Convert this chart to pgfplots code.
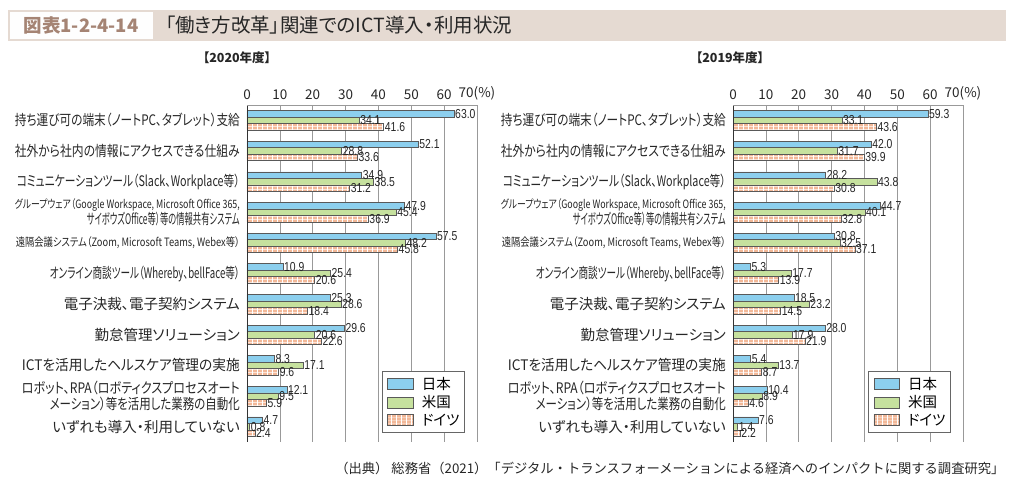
\documentclass[border=0pt]{standalone}
\usepackage{fontspec}
\usepackage{graphicx}
\usepackage{pgfplots}
\pgfplotsset{compat=1.18}
\usepackage{pgfplotstable}
\usetikzlibrary{patterns}
\setmainfont{Noto Sans CJK JP}[RawFeature=+palt]
\newfontfamily\jpm{Noto Sans CJK JP}
\newfontfamily\numf{Liberation Sans}[FakeStretch=0.8]
\definecolor{cjp}{HTML}{8CCFEE}
\definecolor{cus}{HTML}{C6E19E}
\definecolor{cde}{HTML}{F2B898}
\definecolor{titlebg}{HTML}{E5DAD2}
\definecolor{titlefg}{HTML}{A58474}
\pgfdeclarepatternformonly{mycells}{\pgfqpoint{0pt}{0pt}}{\pgfqpoint{4.5pt}{3.25pt}}{\pgfqpoint{4.5pt}{3.25pt}}{%
  \pgfpathrectangle{\pgfqpoint{0.25pt}{0.2pt}}{\pgfqpoint{4pt}{2.85pt}}%
  \pgfusepath{fill}}
\newcommand{\fitw}[2]{\resizebox{#1}{\height}{#2}}

\pgfplotstableread{
y jp us de
10 63.0 34.1 41.6
9 52.1 28.8 33.6
8 34.9 38.5 31.2
7 47.9 45.4 36.9
6 57.5 48.2 45.8
5 10.9 25.4 20.6
4 25.3 28.6 18.4
3 29.6 20.6 22.6
2 8.3 17.1 9.6
1 12.1 9.5 5.9
0 4.7 0.8 2.4
}\dtA
\pgfplotstableread{
y jp us de
10 59.3 33.1 43.6
9 42.0 31.7 39.9
8 28.2 43.8 30.8
7 44.7 40.1 32.8
6 30.8 32.5 37.1
5 5.3 17.7 13.9
4 18.5 23.2 14.5
3 28.0 17.9 21.9
2 5.4 13.7 8.7
1 10.4 8.9 4.6
0 7.6 1.4 2.2
}\dtB

\pgfplotsset{
  legpatch/.style={legend image code/.code={\path (-2pt,0pt) (32pt,0pt);\draw[##1] (0pt,-5.5pt) rectangle (25pt,5.5pt);}},
  mychart/.style={
    xbar, bar width=6.5pt,
    scale only axis, width=230pt, height=337pt,
    anchor=south west,
    xmin=0, xmax=70, ymin=-0.5, ymax=10.5,
    xtick={0,10,...,70},
    xticklabels={0,10,20,30,40,50,60,70(\%)},
    xticklabel pos=upper,
    ytick={0,...,10},
    yticklabels={
      いずれも導入・利用していない,
      {\fitw{218pt}{ロボット、RPA（ロボティクスプロセスオート}\\\fitw{190pt}{メーション）等を活用した業務の自動化}},
      {\fitw{218pt}{ICTを活用したヘルスケア管理の実施}},
      勤怠管理ソリューション,
      電子決裁、電子契約システム,
      {\fitw{190pt}{オンライン商談ツール（Whereby、bellFace等）}},
      {\fontsize{11.5}{11.5}\selectfont\fitw{224pt}{遠隔会議システム（Zoom, Microsoft Teams, Webex等）}},
      {\fontsize{11.5}{13}\selectfont\fitw{225pt}{グループウェア（Google Workspace, Microsoft Office 365,}\\\fitw{153pt}{サイボウズOffice等）等の情報共有システム}},
      {\fitw{223pt}{コミュニケーションツール（Slack、Workplace等）}},
      {\fitw{225pt}{社外から社内の情報にアクセスできる仕組み}},
      {\fitw{225pt}{持ち運び可の端末（ノートPC、タブレット）支給}}
    },
    tick style={draw=none},
    major tick length=0pt,
    axis line style={draw=none},
    xmajorgrids, major grid style={black!40, line width=0.7pt},
    /pgf/number format/assume math mode=true,
    xticklabel style={font=\fontsize{13.5}{14}\selectfont, text=black!85, inner sep=0pt, yshift=5pt},
    yticklabel style={align=right, font=\fontsize{14.5}{15.5}\selectfont, text=black!85, inner sep=0pt, xshift=-7pt},
    nodes near coords={\pgfmathprintnumber[fixed,fixed zerofill,precision=1]{\pgfplotspointmeta}},
    nodes near coords style={font=\numf\fontsize{13}{13}\selectfont, inner sep=1pt, text=black!85},
    legend style={at={(1,0)}, anchor=south east, xshift=-12pt, yshift=9pt,
      draw=black!60, line width=0.8pt, font=\fontsize{14.5}{16}\selectfont,
      inner xsep=3pt, inner ysep=4pt, row sep=0.5pt, cells={anchor=west}},
    clip=false,
  },
  barjp/.style={draw=black!65, line width=0.5pt, fill=cjp, bar shift=6.5pt, legpatch},
  barus/.style={draw=black!65, line width=0.5pt, fill=cus, bar shift=0pt, legpatch},
  barde/.style={draw=black!65, line width=0.5pt, fill=white, postaction={pattern=mycells, pattern color=cde}, bar shift=-6.5pt, legpatch},
}

\begin{document}
\begin{tikzpicture}[x=1pt,y=1pt]
\useasboundingbox (0,0) rectangle (1015,490);
% title bar
\fill[titlebg] (8,449) rectangle (1006,480);
\fill[white!97!titlebg] (10,451) rectangle (153,478);
\node[text=titlefg, font=\bfseries\fontsize{18.5}{18}\selectfont] at (81,464.5) {図表1-2-4-14};
\node[anchor=west, font=\fontsize{19.5}{20}\selectfont, text=black!85] at (162,464.5) {「働き方改革」関連でのICT導入・利用状況};
% subtitles
\node[font=\bfseries\fontsize{12.5}{13}\selectfont, text=black!85] at (237,432) {【2020年度】};
\node[font=\bfseries\fontsize{12.5}{13}\selectfont, text=black!85] at (730,432) {【2019年度】};
% left chart
\begin{axis}[mychart, at={(247pt,48pt)}]
  \addplot[barjp] table[x=jp,y=y]{\dtA};
  \addplot[barus] table[x=us,y=y]{\dtA};
  \addplot[barde] table[x=de,y=y]{\dtA};
  \legend{日本,米国,ドイツ}
  \draw[black!80, line width=0.8pt] (axis description cs:0,0) -- (axis description cs:0,1);
  \draw[black!40, line width=0.7pt] (axis description cs:0,1) -- (axis description cs:1,1);
\end{axis}
% right chart
\begin{axis}[mychart, at={(733pt,48pt)}]
  \addplot[barjp] table[x=jp,y=y]{\dtB};
  \addplot[barus] table[x=us,y=y]{\dtB};
  \addplot[barde] table[x=de,y=y]{\dtB};
  \legend{日本,米国,ドイツ}
  \draw[black!80, line width=0.8pt] (axis description cs:0,0) -- (axis description cs:0,1);
  \draw[black!40, line width=0.7pt] (axis description cs:0,1) -- (axis description cs:1,1);
\end{axis}
% source
\node[anchor=east, font=\jpm\fontsize{13.3}{13}\selectfont, text=black!85] at (1008,22) {（出典） 総務省（2021）「デジタル・トランスフォーメーションによる経済へのインパクトに関する調査研究」};
\end{tikzpicture}
\end{document}
